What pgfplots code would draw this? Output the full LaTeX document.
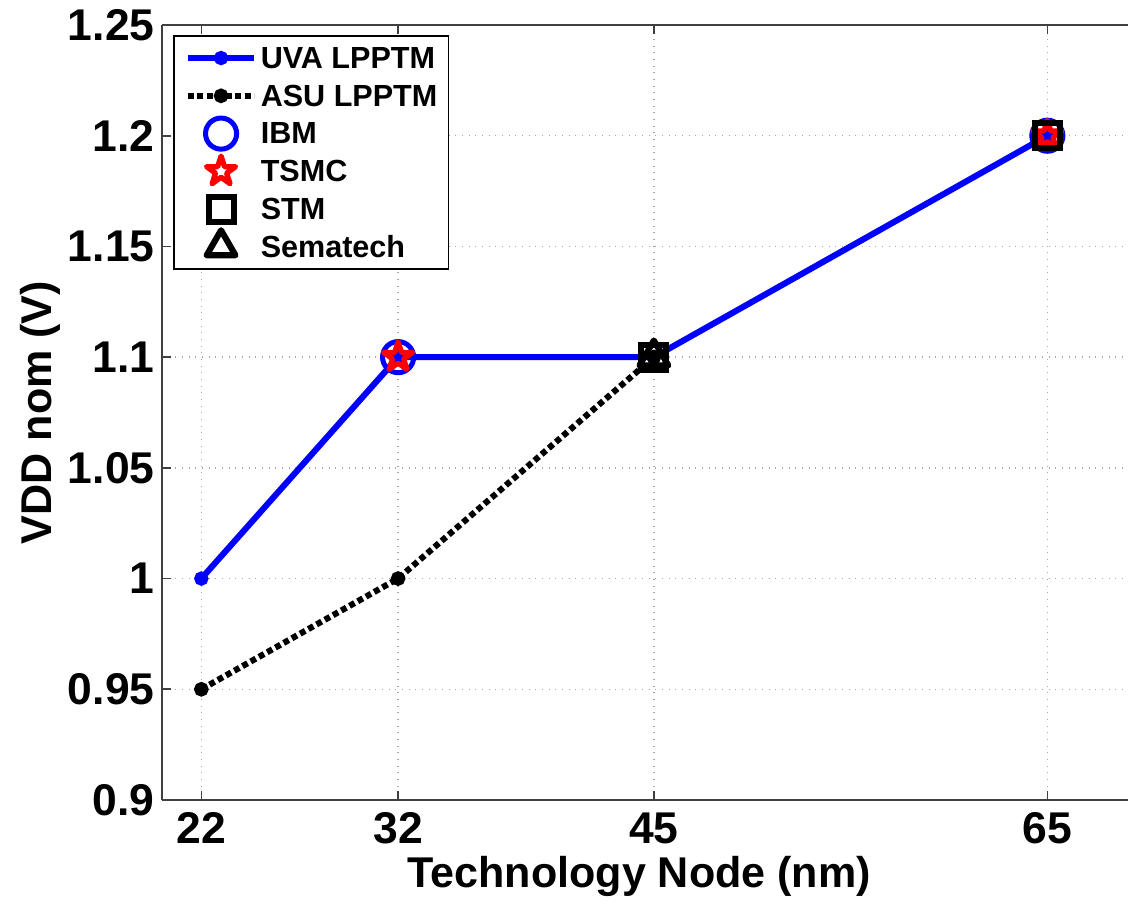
\documentclass[border=0pt]{standalone}
\usepackage{fontspec}
\setmainfont{Liberation Sans}
\usepackage{pgfplots}
\pgfplotsset{compat=1.18}
\usetikzlibrary{plotmarks}

\pgfdeclareplotmark{pentagram}{%
  \pgfpathmoveto{\pgfpointpolar{90}{\pgfplotmarksize}}%
  \pgfpathlineto{\pgfpointpolar{126}{0.382\pgfplotmarksize}}%
  \pgfpathlineto{\pgfpointpolar{162}{\pgfplotmarksize}}%
  \pgfpathlineto{\pgfpointpolar{198}{0.382\pgfplotmarksize}}%
  \pgfpathlineto{\pgfpointpolar{234}{\pgfplotmarksize}}%
  \pgfpathlineto{\pgfpointpolar{270}{0.382\pgfplotmarksize}}%
  \pgfpathlineto{\pgfpointpolar{306}{\pgfplotmarksize}}%
  \pgfpathlineto{\pgfpointpolar{342}{0.382\pgfplotmarksize}}%
  \pgfpathlineto{\pgfpointpolar{18}{\pgfplotmarksize}}%
  \pgfpathlineto{\pgfpointpolar{54}{0.382\pgfplotmarksize}}%
  \pgfpathclose
  \pgfusepathqstroke
}

\definecolor{mblue}{rgb}{0,0,1}
\definecolor{mred}{rgb}{1,0,0}
\definecolor{axgray}{rgb}{0.25,0.25,0.25}

\begin{document}
\begin{tikzpicture}
\begin{axis}[
  scale only axis,
  width=347.76pt, height=279pt,
  xmin=20, xmax=69.1, ymin=0.9, ymax=1.25,
  axis x line=box, axis y line=left,
  y axis line style={-},
  axis line style={axgray, line width=0.6pt},
  xtick={22,32,45,65},
  ytick={0.9,0.95,1,1.05,1.1,1.15,1.2,1.25},
  yticklabels={0.9,0.95,1,1.05,1.1,1.15,1.2,1.25},
  grid=major,
  grid style={dotted, black!35, line width=0.5pt},
  tick style={axgray, line width=0.6pt},
  major tick length=3.2pt,
  tick align=inside,
  /pgf/number format/assume math mode=true,
  tick label style={font=\bfseries\fontsize{16}{16}\selectfont},
  yticklabel style={inner sep=0pt, xshift=-2.5pt},
  xticklabel style={inner sep=0pt, yshift=-4.3pt},
  xlabel={Technology Node (nm)},
  ylabel={VDD nom (V)},
  xlabel style={font=\bfseries\fontsize{15.5}{15.5}\selectfont, inner sep=0pt,
    at={(axis description cs:0.494,-0.099)}, anchor=center},
  ylabel style={font=\bfseries\fontsize{15.5}{15.5}\selectfont, inner sep=0pt,
    at={(axis description cs:-0.1255,0.5)}, anchor=center},
  legend cell align=left,
  legend image code/.code={%
    \draw[mark repeat=2,mark phase=2,#1] plot coordinates {(0pt,0pt)(11.9pt,0pt)(23.8pt,0pt)};},
  legend style={
    at={(axis description cs:0.0114,0.9871)}, anchor=north west,
    font=\bfseries\fontsize{11}{11}\selectfont,
    draw=black, line width=0.6pt,
    inner xsep=4pt, inner ysep=1.2pt,
    row sep=0pt, column sep=1.3pt,
    nodes={inner sep=0pt, text height=10.5pt, text depth=3.1pt},
  },
]
\addplot[mblue, line width=2.2pt, mark=*, mark size=1.45pt, mark options={solid}]
  coordinates {(22,1.0) (32,1.1) (45,1.1) (65,1.2)};
\addlegendentry{UVA LPPTM}
\addplot[black, line width=2.2pt, dash pattern=on 2.1pt off 1.3pt, mark=*, mark size=1.5pt, mark options={solid}]
  coordinates {(22,0.95) (32,1.0) (45,1.1)};
\addlegendentry{ASU LPPTM}
\addplot[only marks, mblue, mark=o, mark size=5.6pt, mark options={line width=1.8pt}]
  coordinates {(32,1.1) (65,1.2)};
\addlegendentry{IBM}
\addplot[only marks, mred, mark=pentagram, mark size=5.5pt, mark options={line width=1.9pt, line join=round}]
  coordinates {(32,1.1) (65,1.2)};
\addlegendentry{TSMC}
\addplot[only marks, black, mark=square, mark size=4.5pt, mark options={line width=2.2pt}]
  coordinates {(45,1.1) (65,1.2)};
\addlegendentry{STM}
\addplot[only marks, black, mark=triangle, mark size=6pt, mark options={line width=2.2pt, line join=round}]
  coordinates {(45,1.1)};
\addlegendentry{Sematech}
\end{axis}
\pgfresetboundingbox
\path[use as bounding box] ([xshift=-58.32pt, yshift=-37.8pt]current axis.south west) rectangle ([yshift=9pt]current axis.north east);
\end{tikzpicture}
\end{document}
